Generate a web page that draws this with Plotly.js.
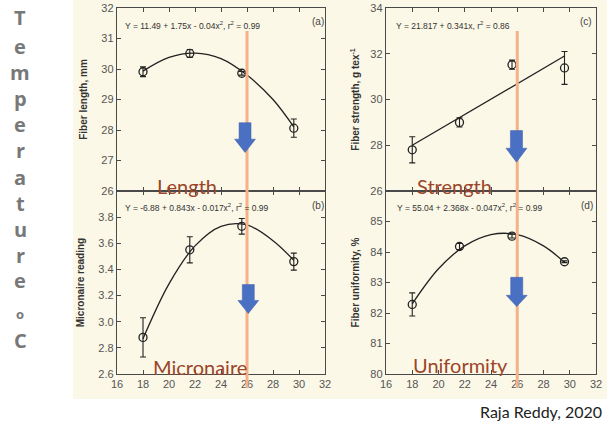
<!DOCTYPE html>
<html>
<head>
<meta charset="utf-8">
<script src="https://cdn.plot.ly/plotly-3.0.1.min.js"></script>
<style>html,body{margin:0;padding:0;background:#fff;}#chart{width:607px;height:425px;}</style>
</head>
<body>
<div id="chart"></div>
<script>
// ---- data ----
var temps = [18, 21.6, 25.6, 29.6];

var lengthMean = [29.91, 30.51, 29.86, 28.06];
var lengthErr = [0.16, 0.13, 0.06, 0.30];
var strengthMean = [27.80, 29.00, 31.52, 31.38];
var strengthErr = [0.57, 0.20, 0.20, 0.72];
var micronaireMean = [2.88, 3.55, 3.73, 3.46];
var micronaireErr = [0.15, 0.10, 0.06, 0.065];
var uniformityMean = [82.28, 84.18, 84.52, 83.68];
var uniformityErr = [0.38, 0.10, 0.06, 0.03];

var fitX = [18, 20, 22, 24, 26, 28, 29.6];
var lengthFit = [29.93, 30.38, 30.52, 30.34, 29.80, 29.00, 28.10];
var micronaireFit = [2.87, 3.29, 3.58, 3.73, 3.74, 3.62, 3.47];
var uniformityFit = [82.30, 83.45, 84.20, 84.57, 84.57, 84.20, 83.66];
var strengthFitX = [18, 29.6];
var strengthFit = [28.0, 31.9];

var optimumTemp = 26;
var xTicks = [16, 18, 20, 22, 24, 26, 28, 30, 32];
var lengthTicks = [26, 27, 28, 29, 30, 31, 32];
var strengthTicks = [26, 28, 30, 32, 34];
var micronaireTicks = [2.6, 2.8, 3.0, 3.2, 3.4, 3.6, 3.8];
var micronaireTickText = ['2.6', '2.8', '3.0', '3.2', '3.4', '3.6', '3.8'];
var uniformityTicks = [80, 81, 82, 83, 84, 85];

var equations = [
  'Y = 11.49 + 1.75x - 0.04x<sup>2</sup>, r<sup>2</sup> = 0.99',
  'Y = 21.817 + 0.341x, r<sup>2</sup> = 0.86',
  'Y = -6.88 + 0.843x - 0.017x<sup>2</sup>, r<sup>2</sup> = 0.99',
  'Y = 55.04 + 2.368x - 0.047x<sup>2</sup>, r<sup>2</sup> = 0.99'
];
var panelTags = ['(a)', '(c)', '(b)', '(d)'];
var panelNames = ['Length', 'Strength', 'Micronaire', 'Uniformity'];
var yTitles = ['Fiber length, mm', 'Fiber strength, g tex<sup>-1</sup>', 'Micronaire reading', 'Fiber uniformity, %'];
var sideLetters = ['T','e','m','p','e','r','a','t','u','r','e','o','C'];
var credit = 'Raja Reddy, 2020';

// ---- helpers ----
var W = 607, H = 425;
function px(x){ return x / W; }
function py(y){ return 1 - y / H; }

var tickFont = {family: 'Liberation Sans, Arial, sans-serif', size: 11, color: '#555'};
var titleFont = {family: 'Liberation Sans, Arial, sans-serif', size: 10, color: '#333', weight: 'bold'};
var axisColor = '#4a4a4a';

function scatter(x, y, err, xa, ya){
  return {x: x, y: y, xaxis: xa, yaxis: ya, type: 'scatter', mode: 'markers',
    marker: {symbol: 'circle-open', size: 8, color: '#222', line: {width: 1.3, color: '#222'}},
    error_y: {type: 'data', array: err, visible: true, color: '#222', thickness: 1.1, width: 3},
    showlegend: false, hoverinfo: 'skip'};
}
function fit(x, y, xa, ya){
  return {x: x, y: y, xaxis: xa, yaxis: ya, type: 'scatter', mode: 'lines',
    line: {color: '#222', width: 1.3, shape: 'spline', smoothing: 1},
    showlegend: false, hoverinfo: 'skip'};
}

var data = [
  fit(fitX, lengthFit, 'x', 'y'), scatter(temps, lengthMean, lengthErr, 'x', 'y'),
  fit(strengthFitX, strengthFit, 'x2', 'y2'), scatter(temps, strengthMean, strengthErr, 'x2', 'y2'),
  fit(fitX, micronaireFit, 'x3', 'y3'), scatter(temps, micronaireMean, micronaireErr, 'x3', 'y3'),
  fit(fitX, uniformityFit, 'x4', 'y4'), scatter(temps, uniformityMean, uniformityErr, 'x4', 'y4')
];

var leftDom = [px(117), px(325)];
var rightDom = [px(386), px(596)];
var topDom = [py(191), py(8)];
var botDom = [py(374), py(191)];

function xax(dom, anchor, labels){
  return {domain: dom, anchor: anchor, range: [16, 32], tickvals: xTicks,
    showticklabels: labels, ticks: 'inside', ticklen: 4, tickcolor: axisColor,
    showline: true, linecolor: axisColor, linewidth: 1.2, mirror: 'ticks',
    showgrid: false, zeroline: false, tickfont: tickFont, fixedrange: true};
}
function yax(dom, anchor, range, tv, tt, title, standoff){
  var a = {domain: dom, anchor: anchor, range: range, tickvals: tv,
    ticks: 'inside', ticklen: 4, tickcolor: axisColor,
    showline: true, linecolor: axisColor, linewidth: 1.2, mirror: 'ticks',
    showgrid: false, zeroline: false, tickfont: tickFont, fixedrange: true,
    title: {text: title, font: titleFont, standoff: standoff}};
  if (tt) a.ticktext = tt;
  return a;
}

function arrow(xref, yref, cx, yTop, yNeck, yTip, hs, hh){
  return {type: 'path', xref: xref, yref: yref, layer: 'above',
    path: 'M ' + (cx-hs) + ' ' + yTop + ' L ' + (cx+hs) + ' ' + yTop + ' L ' + (cx+hs) + ' ' + yNeck +
          ' L ' + (cx+hh) + ' ' + yNeck + ' L ' + cx + ' ' + yTip + ' L ' + (cx-hh) + ' ' + yNeck +
          ' L ' + (cx-hs) + ' ' + yNeck + ' Z',
    fillcolor: '#4a70c4', line: {color: '#3d5fa8', width: 0.5}};
}

var shapes = [
  {type: 'rect', xref: 'paper', yref: 'paper', x0: px(73), x1: 1, y0: py(399), y1: 1,
   fillcolor: '#fbf8e7', line: {width: 0}, layer: 'below'},
  {type: 'line', xref: 'x', yref: 'paper', x0: optimumTemp, x1: optimumTemp, y0: py(388), y1: py(31),
   line: {color: '#f5b289', width: 3}, layer: 'above'},
  {type: 'line', xref: 'x2', yref: 'paper', x0: optimumTemp, x1: optimumTemp, y0: py(388), y1: py(31),
   line: {color: '#f5b289', width: 3}, layer: 'above'},
  arrow('x', 'y', 25.85, 28.24, 27.70, 27.26, 0.46, 0.80),
  arrow('x2', 'y2', 25.94, 28.64, 27.87, 27.26, 0.46, 0.80),
  arrow('x3', 'y3', 26.1, 3.284, 3.163, 3.062, 0.46, 0.80),
  arrow('x4', 'y4', 25.96, 83.17, 82.58, 82.21, 0.46, 0.80)
];

var annotations = [];
var eqPos = [[123, 25], [394, 25], [123, 207], [395, 207]];
var tagPos = [[318, 22], [586, 22], [318, 205], [587, 205]];
var namePos = [[187, 186], [455, 186], [200, 367], [460, 365]];
for (var i = 0; i < 4; i++){
  annotations.push({xref: 'paper', yref: 'paper', x: px(eqPos[i][0]), y: py(eqPos[i][1]),
    xanchor: 'left', yanchor: 'middle', showarrow: false, text: equations[i],
    font: {family: 'Liberation Sans Narrow, Arial Narrow, Liberation Sans, sans-serif', size: 8.5, color: '#333'}});
  annotations.push({xref: 'paper', yref: 'paper', x: px(tagPos[i][0]), y: py(tagPos[i][1]),
    xanchor: 'center', yanchor: 'middle', showarrow: false, text: panelTags[i],
    font: {family: 'Liberation Sans, Arial, sans-serif', size: 10, color: '#444'}});
  annotations.push({xref: 'paper', yref: 'paper', x: px(namePos[i][0]), y: py(namePos[i][1]),
    xanchor: 'center', yanchor: 'middle', showarrow: false, text: panelNames[i],
    font: {family: 'Lato, Open Sans, sans-serif', size: 20, color: '#9b452a'}});
}
var letterY = [17, 46, 72, 98, 124, 151, 177, 203, 230, 255, 280, 314, 340];
for (var j = 0; j < sideLetters.length; j++){
  annotations.push({xref: 'paper', yref: 'paper', x: px(20), y: py(letterY[j]),
    xanchor: 'center', yanchor: 'middle', showarrow: false, text: sideLetters[j],
    font: {family: 'Open Sans, Lato, sans-serif', size: j === 11 ? 13 : 20, color: '#787878', weight: 'bold'}});
}
annotations.push({xref: 'paper', yref: 'paper', x: px(604), y: py(411),
  xanchor: 'right', yanchor: 'middle', showarrow: false, text: credit,
  font: {family: 'Lato, Open Sans, sans-serif', size: 16, color: '#222'}});

var layout = {
  width: W, height: H, margin: {l: 0, r: 0, t: 0, b: 0},
  paper_bgcolor: '#ffffff', plot_bgcolor: 'rgba(0,0,0,0)',
  showlegend: false,
  xaxis: xax(leftDom, 'y', false),
  yaxis: yax(topDom, 'x', [26, 32], lengthTicks, null, yTitles[0], 11),
  xaxis2: xax(rightDom, 'y2', false),
  yaxis2: yax(topDom, 'x2', [26, 34], strengthTicks, null, yTitles[1], 8),
  xaxis3: xax(leftDom, 'y3', true),
  yaxis3: yax(botDom, 'x3', [2.6, 4.0], micronaireTicks, micronaireTickText, yTitles[2], 11),
  xaxis4: xax(rightDom, 'y4', true),
  yaxis4: yax(botDom, 'x4', [80, 86], uniformityTicks, null, yTitles[3], 8),
  shapes: shapes,
  annotations: annotations
};

Plotly.newPlot('chart', data, layout, {staticPlot: true, displayModeBar: false});
</script>
</body>
</html>
